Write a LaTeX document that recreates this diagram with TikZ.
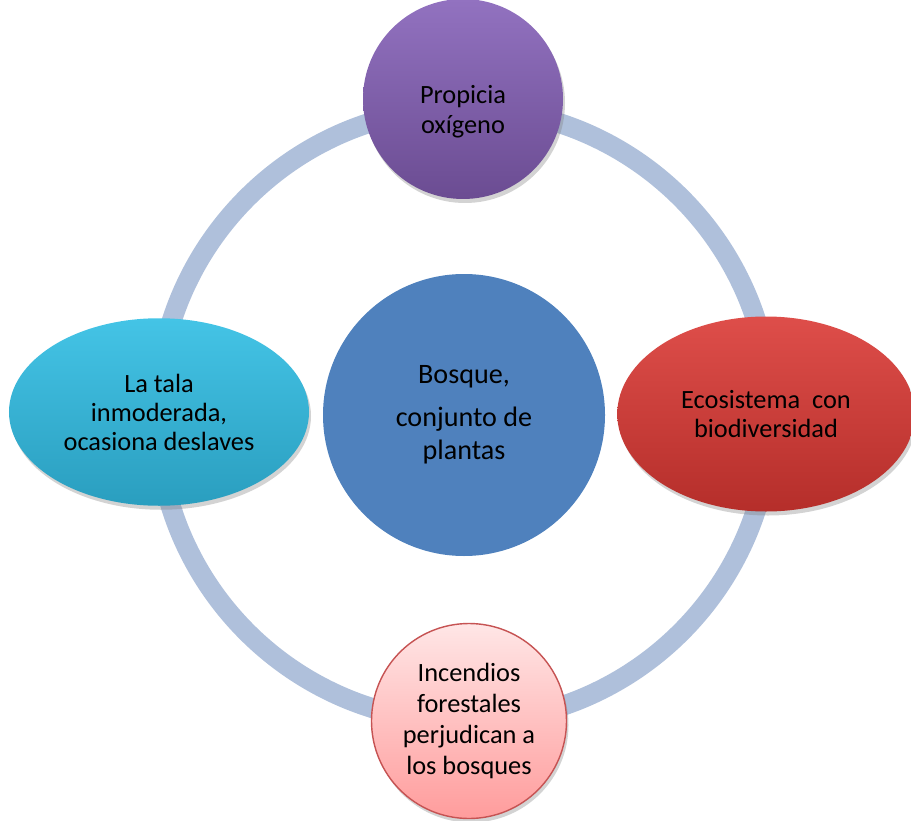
\documentclass[tikz,border=0pt]{standalone}
\usepackage{fontspec}
\setmainfont{Carlito}
\usetikzlibrary{shapes.geometric,shadows}

\definecolor{ringblue}{HTML}{AFC0DB}
\definecolor{coreblue}{HTML}{4F81BD}
\definecolor{purpletop}{HTML}{9272C0}
\definecolor{purplebot}{HTML}{6B4C92}
\definecolor{redtop}{HTML}{DE4E4A}
\definecolor{redbot}{HTML}{B52E2A}
\definecolor{cyantop}{HTML}{44C4E6}
\definecolor{cyanbot}{HTML}{2A9EBF}
\definecolor{pinktop}{HTML}{FFE6E6}
\definecolor{pinkbot}{HTML}{FF9C9C}
\definecolor{pinkline}{HTML}{C65353}

\begin{document}
\begin{tikzpicture}[
    ring/.style={draw=ringblue, line width=0.4cm},
    bubble/.style={circle, align=center, inner sep=0pt, font=\fontsize{15}{17}\selectfont,
        drop shadow={opacity=0.35, shadow xshift=0.04cm, shadow yshift=-0.08cm}},
    oval/.style={ellipse, align=center, inner sep=0pt, font=\fontsize{15}{16.5}\selectfont,
        drop shadow={opacity=0.35, shadow xshift=0.04cm, shadow yshift=-0.08cm}}
    ]
            \useasboundingbox (0,0) rectangle (18.22,-16.4);

            % Center
            \node[circle, fill=coreblue, minimum size=5.64cm, align=center,
                  font=\fontsize{16}{18.8}\selectfont] (bosque) at (9.28,-8.30)
                  {Bosque,\\[0.2cm] conjunto de\\ plantas};

            % Ring
            \draw[ring] (bosque.center) circle (6.14cm);

            % Outer nodes
            \node[bubble, minimum size=4.0cm, top color=purpletop, bottom color=purplebot,
                  label={[align=center, font=\fontsize{15}{17}\selectfont, yshift=-0.26cm]center:Propicia\\ oxígeno}]
                  (oxigeno) at (9.26,-1.98) {};
            \node[oval, minimum width=5.95cm, minimum height=3.9cm, top color=redtop, bottom color=redbot]
                  (ecosistema) at (15.32,-8.28) {Ecosistema~~con\\ biodiversidad};
            \node[bubble, minimum size=3.9cm, top color=pinktop, bottom color=pinkbot,
                  draw=pinkline, line width=0.8pt, font=\fontsize{15}{17.5}\selectfont]
                  (incendios) at (9.38,-14.42) {Incendios\\ forestales\\ perjudican a\\ los bosques};
            \node[oval, minimum width=6.0cm, minimum height=3.75cm, top color=cyantop, bottom color=cyanbot]
                  (tala) at (3.18,-8.24) {La tala\\ inmoderada,\\ ocasiona deslaves};

            \end{tikzpicture}
\end{document}
